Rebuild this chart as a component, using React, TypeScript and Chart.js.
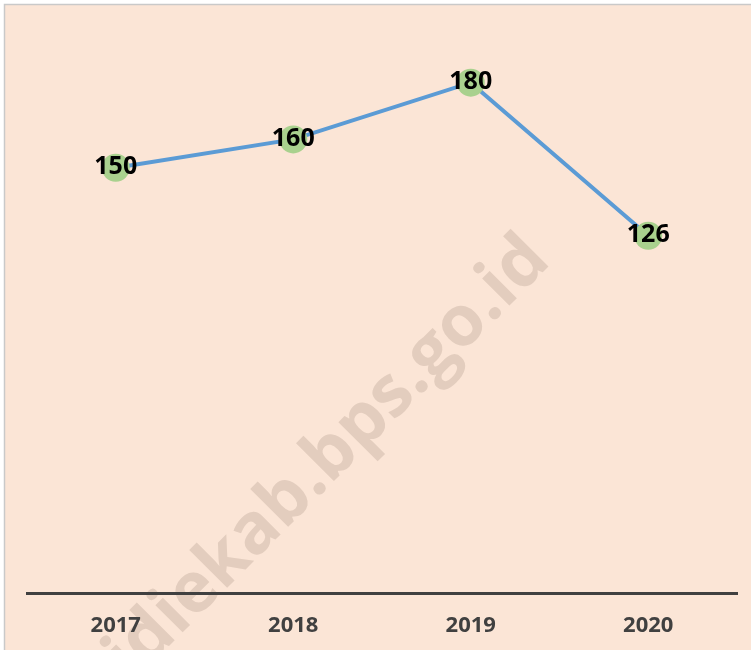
import React, { useEffect, useRef } from "react";
import { Chart, registerables } from "chart.js";

Chart.register(...registerables);

const years = ["2017", "2018", "2019", "2020"];
const values = [150, 160, 180, 126];
const yMin = 0;
const yMax = 200;
const watermarkText = "pidiekab.bps.go.id";

const FONT = "'Open Sans', 'DejaVu Sans', sans-serif";

const backgroundPlugin = {
  id: "bgWatermark",
  beforeDraw(chart: any) {
    const ctx = chart.ctx as CanvasRenderingContext2D;
    const W = chart.width;
    const H = chart.height;
    ctx.save();
    ctx.fillStyle = "#ffffff";
    ctx.fillRect(0, 0, W, H);
    ctx.fillStyle = "#FBE5D6";
    ctx.fillRect(4, 4, W - 4, H - 4);
    ctx.strokeStyle = "#C9C9C9";
    ctx.lineWidth = 1.5;
    ctx.beginPath();
    ctx.moveTo(4.5, H);
    ctx.lineTo(4.5, 4.5);
    ctx.lineTo(W, 4.5);
    ctx.stroke();

    // watermark
    ctx.font = `bold 100px ${FONT}`;
    const wA = ctx.measureText("pidiekab").width;
    const wB = ctx.measureText("pidiekab.bps.go").width;
    const size = (248 / (wB - wA)) * 100;
    ctx.font = `bold ${size}px ${FONT}`;
    const offs = ctx.measureText("pidiekab").width + ctx.measureText(".").width / 2;
    const ang = -Math.PI / 4;
    const cx = 319 + 0.08 * size * Math.sin(-ang);
    const cy = 488 + 0.08 * size * Math.cos(ang);
    const sx = cx - offs * Math.cos(ang);
    const sy = cy - offs * Math.sin(ang);
    ctx.translate(sx, sy);
    ctx.rotate(ang);
    ctx.fillStyle = "#E3CDBE";
    ctx.textAlign = "left";
    ctx.textBaseline = "alphabetic";
    ctx.fillText(watermarkText, 0, 0);
    ctx.restore();
  },
};

const labelPlugin = {
  id: "valueLabels",
  afterDatasetsDraw(chart: any) {
    const ctx = chart.ctx as CanvasRenderingContext2D;
    const meta = chart.getDatasetMeta(0);
    const data = chart.data.datasets[0].data as number[];
    ctx.save();
    ctx.font = `bold 25px ${FONT}`;
    ctx.fillStyle = "#000000";
    ctx.textAlign = "center";
    ctx.textBaseline = "middle";
    meta.data.forEach((pt: any, i: number) => {
      ctx.fillText(String(data[i]), pt.x, pt.y - 1);
    });
    ctx.restore();
  },
};

export default function App() {
  const ref = useRef<HTMLCanvasElement>(null);
  useEffect(() => {
    if (!ref.current) return;
    const chart = new Chart(ref.current, {
      type: "line",
      data: {
        labels: years,
        datasets: [
          {
            data: values,
            borderColor: "#5B9BD5",
            borderWidth: 4,
            pointRadius: 14,
            pointBackgroundColor: "#A9D18E",
            pointBorderColor: "#A9D18E",
            pointBorderWidth: 0,
            tension: 0,
            fill: false,
          },
        ],
      },
      options: {
        responsive: false,
        animation: false,
        devicePixelRatio: 1,
        layout: { padding: { left: 27, right: 12, top: 26, bottom: 0 } },
        plugins: {
          legend: { display: false },
          tooltip: { enabled: false },
          title: { display: false },
        },
        scales: {
          x: {
            offset: true,
            grid: { display: false, drawTicks: false },
            border: { display: true, color: "#404040", width: 3 },
            ticks: {
              color: "#404040",
              font: { family: FONT, size: 22, weight: "bold" },
              padding: 20,
              maxRotation: 0,
            },
            afterFit: (scale: any) => {
              scale.height = 57;
            },
          },
          y: {
            display: false,
            min: yMin,
            max: yMax,
          },
        },
      },
      plugins: [backgroundPlugin, labelPlugin],
    });
    return () => chart.destroy();
  }, []);
  return (
    <div style={{ position: "absolute", left: 0, top: 0, width: 751, height: 650 }}>
      <canvas ref={ref} width={751} height={650} style={{ display: "block" }} />
    </div>
  );
}
